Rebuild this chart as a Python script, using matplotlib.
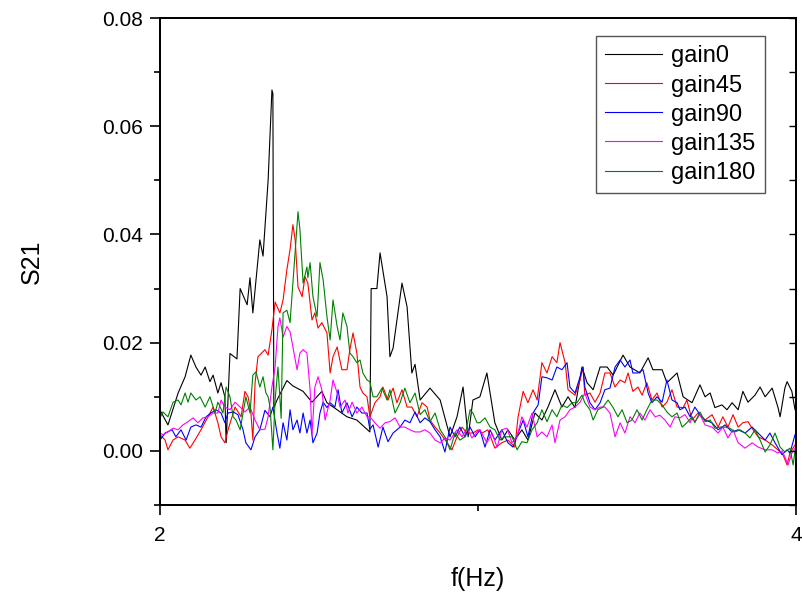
import matplotlib
matplotlib.use("Agg")
import matplotlib.pyplot as plt
from matplotlib.ticker import MultipleLocator, FixedLocator

plt.rcParams['font.family'] = ['Liberation Sans', 'DejaVu Sans']

# ---- data (f in Hz, S21) ----
labels = ["gain0", "gain45", "gain90", "gain135", "gain180"]
line_colors = ["#000000", "#ff0000", "#0000ff", "#ff00ff", "#008000"]

f_gain0 = [2.003, 2.025, 2.057, 2.079, 2.097, 2.113, 2.129, 2.142, 2.157, 2.167,
           2.182, 2.192, 2.204, 2.208, 2.220, 2.242, 2.252, 2.274, 2.283, 2.292,
           2.314, 2.324, 2.340, 2.352, 2.355, 2.358, 2.368, 2.399, 2.418, 2.450,
           2.478, 2.509, 2.525, 2.557, 2.588, 2.619, 2.660, 2.664, 2.682, 2.692,
           2.714, 2.723, 2.733, 2.761, 2.777, 2.792, 2.802, 2.818, 2.849, 2.881,
           2.912, 2.934, 2.953, 2.969, 2.984, 3.006, 3.028, 3.038, 3.053, 3.075,
           3.094, 3.116, 3.138, 3.157, 3.179, 3.201, 3.220, 3.242, 3.264, 3.283,
           3.305, 3.327, 3.343, 3.362, 3.384, 3.406, 3.425, 3.456, 3.478, 3.509,
           3.535, 3.550, 3.579, 3.594, 3.626, 3.645, 3.673, 3.698, 3.714, 3.730,
           3.745, 3.767, 3.783, 3.799, 3.818, 3.833, 3.849, 3.871, 3.887, 3.903,
           3.925, 3.943, 3.950, 3.965, 3.972, 3.987, 3.997]
s_gain0 = [0.0072, 0.0048, 0.0107, 0.0137, 0.0177, 0.0155, 0.0140, 0.0155, 0.0128, 0.0140,
           0.0107, 0.0126, 0.0100, 0.0015, 0.0180, 0.0170, 0.0300, 0.0270, 0.0320, 0.0255,
           0.0390, 0.0360, 0.0500, 0.0667, 0.0660, 0.0080, 0.0094, 0.0130, 0.0120, 0.0110,
           0.0090, 0.0110, 0.0089, 0.0076, 0.0063, 0.0057, 0.0035, 0.0300, 0.0300, 0.0366,
           0.0285, 0.0174, 0.0190, 0.0310, 0.0266, 0.0144, 0.0160, 0.0094, 0.0116, 0.0094,
           0.0026, 0.0063, 0.0118, 0.0026, 0.0094, 0.0100, 0.0144, 0.0107, 0.0052, 0.0020,
           0.0039, 0.0020, 0.0039, 0.0020, 0.0070, 0.0057, 0.0081, 0.0113, 0.0081, 0.0100,
           0.0080, 0.0155, 0.0126, 0.0113, 0.0155, 0.0155, 0.0140, 0.0177, 0.0155, 0.0144,
           0.0172, 0.0150, 0.0150, 0.0126, 0.0144, 0.0100, 0.0089, 0.0122, 0.0100, 0.0107,
           0.0080, 0.0085, 0.0076, 0.0089, 0.0076, 0.0110, 0.0090, 0.0103, 0.0118, 0.0100,
           0.0116, 0.0081, 0.0063, 0.0116, 0.0128, 0.0110, 0.0076]

f_gain45 = [2.000, 2.016, 2.025, 2.041, 2.057, 2.079, 2.094, 2.110, 2.129, 2.151,
            2.167, 2.182, 2.192, 2.204, 2.214, 2.236, 2.255, 2.267, 2.277, 2.286,
            2.292, 2.299, 2.308, 2.330, 2.340, 2.352, 2.362, 2.377, 2.387, 2.399,
            2.409, 2.418, 2.425, 2.434, 2.447, 2.456, 2.465, 2.478, 2.487, 2.497,
            2.509, 2.525, 2.535, 2.544, 2.557, 2.572, 2.588, 2.597, 2.607, 2.619,
            2.629, 2.638, 2.651, 2.660, 2.676, 2.692, 2.701, 2.717, 2.733, 2.745,
            2.761, 2.777, 2.792, 2.808, 2.824, 2.840, 2.849, 2.865, 2.881, 2.903,
            2.918, 2.934, 2.950, 2.965, 2.984, 3.000, 3.013, 3.031, 3.053, 3.075,
            3.094, 3.116, 3.126, 3.142, 3.157, 3.173, 3.186, 3.201, 3.217, 3.233,
            3.248, 3.258, 3.274, 3.283, 3.305, 3.321, 3.330, 3.336, 3.352, 3.368,
            3.384, 3.399, 3.415, 3.431, 3.447, 3.462, 3.472, 3.487, 3.503, 3.516,
            3.531, 3.547, 3.563, 3.579, 3.594, 3.610, 3.626, 3.645, 3.657, 3.673,
            3.692, 3.714, 3.736, 3.755, 3.770, 3.786, 3.802, 3.818, 3.833, 3.849,
            3.865, 3.881, 3.903, 3.925, 3.943, 3.959, 3.972, 3.981, 3.997]
s_gain45 = [0.0030, 0.0020, 0.0002, 0.0020, 0.0026, 0.0020, 0.0005, 0.0020, 0.0039, 0.0063,
            0.0081, 0.0052, 0.0026, 0.0015, 0.0039, 0.0081, 0.0063, 0.0110, 0.0100, 0.0070,
            0.0020, 0.0126, 0.0174, 0.0187, 0.0177, 0.0224, 0.0275, 0.0255, 0.0279, 0.0335,
            0.0372, 0.0418, 0.0390, 0.0303, 0.0285, 0.0322, 0.0310, 0.0242, 0.0255, 0.0227,
            0.0237, 0.0218, 0.0144, 0.0174, 0.0192, 0.0150, 0.0150, 0.0187, 0.0218, 0.0181,
            0.0118, 0.0107, 0.0100, 0.0063, 0.0089, 0.0100, 0.0118, 0.0094, 0.0116, 0.0089,
            0.0113, 0.0081, 0.0081, 0.0063, 0.0089, 0.0081, 0.0057, 0.0044, 0.0033, 0.0015,
            0.0002, 0.0026, 0.0044, 0.0033, 0.0033, 0.0039, 0.0033, 0.0039, 0.0005, 0.0015,
            0.0020, 0.0007, 0.0063, 0.0110, 0.0089, 0.0113, 0.0094, 0.0163, 0.0144, 0.0174,
            0.0163, 0.0200, 0.0163, 0.0113, 0.0103, 0.0131, 0.0155, 0.0103, 0.0107, 0.0090,
            0.0107, 0.0144, 0.0144, 0.0118, 0.0131, 0.0126, 0.0144, 0.0110, 0.0118, 0.0103,
            0.0126, 0.0094, 0.0107, 0.0081, 0.0090, 0.0113, 0.0081, 0.0080, 0.0094, 0.0057,
            0.0070, 0.0057, 0.0067, 0.0044, 0.0063, 0.0044, 0.0067, 0.0044, 0.0052, 0.0054,
            0.0039, 0.0026, 0.0020, 0.0011, 0.0002, -0.0007, -0.0026, -0.0004, 0.0011]

f_gain90 = [2.000, 2.016, 2.038, 2.050, 2.066, 2.082, 2.097, 2.113, 2.129, 2.145,
            2.160, 2.176, 2.192, 2.204, 2.214, 2.230, 2.245, 2.261, 2.270, 2.286,
            2.299, 2.314, 2.330, 2.346, 2.355, 2.368, 2.377, 2.387, 2.399, 2.409,
            2.418, 2.431, 2.440, 2.450, 2.462, 2.472, 2.481, 2.494, 2.503, 2.513,
            2.525, 2.535, 2.550, 2.560, 2.572, 2.588, 2.604, 2.619, 2.635, 2.651,
            2.660, 2.670, 2.686, 2.701, 2.717, 2.733, 2.755, 2.770, 2.786, 2.802,
            2.818, 2.833, 2.849, 2.865, 2.881, 2.896, 2.912, 2.928, 2.943, 2.959,
            2.975, 2.991, 3.006, 3.022, 3.038, 3.053, 3.075, 3.094, 3.110, 3.126,
            3.142, 3.157, 3.173, 3.189, 3.201, 3.217, 3.233, 3.248, 3.264, 3.280,
            3.289, 3.305, 3.321, 3.330, 3.336, 3.352, 3.368, 3.384, 3.399, 3.415,
            3.431, 3.447, 3.462, 3.478, 3.487, 3.503, 3.519, 3.535, 3.547, 3.563,
            3.579, 3.594, 3.610, 3.626, 3.635, 3.651, 3.667, 3.682, 3.698, 3.714,
            3.736, 3.755, 3.777, 3.799, 3.818, 3.840, 3.862, 3.881, 3.903, 3.918,
            3.934, 3.956, 3.972, 3.981, 3.997]
s_gain90 = [0.0020, 0.0033, 0.0039, 0.0026, 0.0039, 0.0020, 0.0044, 0.0048, 0.0044, 0.0063,
            0.0070, 0.0076, 0.0070, 0.0052, 0.0070, 0.0072, 0.0067, 0.0039, 0.0015, 0.0002,
            0.0026, 0.0039, 0.0075, 0.0063, 0.0081, 0.0033, 0.0005, 0.0052, 0.0020, 0.0076,
            0.0039, 0.0057, 0.0033, 0.0070, 0.0033, 0.0057, 0.0015, 0.0033, 0.0070, 0.0090,
            0.0080, 0.0089, 0.0081, 0.0113, 0.0070, 0.0089, 0.0063, 0.0081, 0.0070, 0.0070,
            0.0040, 0.0048, 0.0007, 0.0044, 0.0017, 0.0033, 0.0044, 0.0057, 0.0052, 0.0072,
            0.0052, 0.0061, 0.0054, 0.0039, 0.0026, -0.0002, 0.0044, 0.0026, 0.0044, 0.0026,
            0.0044, 0.0026, 0.0039, 0.0007, 0.0039, 0.0020, 0.0039, 0.0015, 0.0007, 0.0033,
            0.0057, 0.0026, 0.0070, 0.0085, 0.0137, 0.0135, 0.0131, 0.0155, 0.0150, 0.0163,
            0.0118, 0.0107, 0.0137, 0.0155, 0.0118, 0.0089, 0.0076, 0.0089, 0.0113, 0.0116,
            0.0155, 0.0168, 0.0155, 0.0168, 0.0144, 0.0144, 0.0150, 0.0107, 0.0089, 0.0100,
            0.0090, 0.0131, 0.0094, 0.0089, 0.0076, 0.0081, 0.0063, 0.0081, 0.0067, 0.0057,
            0.0052, 0.0039, 0.0048, 0.0035, 0.0039, 0.0033, 0.0044, 0.0033, 0.0020, 0.0033,
            0.0015, -0.0007, 0.0002, -0.0004, 0.0030]

f_gain135 = [2.000, 2.009, 2.025, 2.041, 2.057, 2.072, 2.088, 2.104, 2.119, 2.135,
             2.151, 2.167, 2.182, 2.192, 2.204, 2.220, 2.236, 2.252, 2.267, 2.283,
             2.299, 2.314, 2.330, 2.340, 2.352, 2.362, 2.371, 2.377, 2.387, 2.399,
             2.409, 2.418, 2.431, 2.440, 2.450, 2.462, 2.472, 2.478, 2.487, 2.497,
             2.509, 2.519, 2.535, 2.544, 2.557, 2.566, 2.582, 2.591, 2.604, 2.619,
             2.635, 2.651, 2.660, 2.676, 2.692, 2.708, 2.723, 2.739, 2.755, 2.770,
             2.786, 2.802, 2.818, 2.833, 2.849, 2.865, 2.881, 2.896, 2.912, 2.934,
             2.950, 2.965, 2.981, 2.997, 3.006, 3.028, 3.044, 3.060, 3.075, 3.091,
             3.107, 3.123, 3.138, 3.154, 3.170, 3.186, 3.201, 3.217, 3.233, 3.242,
             3.258, 3.274, 3.289, 3.305, 3.321, 3.336, 3.352, 3.368, 3.384, 3.399,
             3.415, 3.431, 3.447, 3.462, 3.478, 3.494, 3.509, 3.525, 3.541, 3.557,
             3.572, 3.588, 3.604, 3.619, 3.635, 3.651, 3.667, 3.673, 3.682, 3.698,
             3.714, 3.736, 3.755, 3.770, 3.786, 3.802, 3.818, 3.840, 3.862, 3.881,
             3.903, 3.925, 3.943, 3.956, 3.965, 3.975, 3.987, 3.997]
s_gain135 = [0.0033, 0.0030, 0.0035, 0.0042, 0.0039, 0.0048, 0.0054, 0.0061, 0.0052, 0.0061,
             0.0063, 0.0070, 0.0070, 0.0094, 0.0081, 0.0076, 0.0090, 0.0081, 0.0072, 0.0081,
             0.0057, 0.0039, 0.0040, 0.0063, 0.0118, 0.0155, 0.0230, 0.0246, 0.0210, 0.0230,
             0.0220, 0.0192, 0.0150, 0.0181, 0.0187, 0.0181, 0.0113, 0.0030, 0.0118, 0.0137,
             0.0113, 0.0057, 0.0094, 0.0131, 0.0107, 0.0081, 0.0094, 0.0070, 0.0090, 0.0070,
             0.0081, 0.0063, 0.0063, 0.0052, 0.0042, 0.0052, 0.0054, 0.0061, 0.0044, 0.0044,
             0.0039, 0.0035, 0.0035, 0.0039, 0.0033, 0.0020, 0.0015, 0.0024, 0.0020, 0.0039,
             0.0026, 0.0042, 0.0024, 0.0035, 0.0039, 0.0015, 0.0033, 0.0007, 0.0039, 0.0042,
             0.0015, 0.0026, 0.0063, 0.0044, 0.0070, 0.0026, 0.0035, 0.0026, 0.0048, 0.0015,
             0.0057, 0.0063, 0.0076, 0.0081, 0.0090, 0.0107, 0.0081, 0.0076, 0.0081, 0.0081,
             0.0070, 0.0026, 0.0052, 0.0033, 0.0063, 0.0052, 0.0070, 0.0057, 0.0076, 0.0063,
             0.0066, 0.0057, 0.0044, 0.0063, 0.0061, 0.0067, 0.0052, 0.0063, 0.0054, 0.0067,
             0.0048, 0.0044, 0.0033, 0.0044, 0.0024, 0.0039, 0.0015, 0.0005, 0.0015, 0.0007,
             0.0002, 0.0002, -0.0004, 0.0000, -0.0011, -0.0026, -0.0004, 0.0005]

f_gain180 = [2.000, 2.009, 2.025, 2.041, 2.057, 2.066, 2.079, 2.088, 2.097, 2.113,
             2.126, 2.142, 2.157, 2.173, 2.182, 2.198, 2.208, 2.220, 2.230, 2.239,
             2.252, 2.261, 2.270, 2.283, 2.292, 2.302, 2.314, 2.324, 2.333, 2.340,
             2.346, 2.355, 2.362, 2.371, 2.381, 2.387, 2.399, 2.409, 2.418, 2.431,
             2.434, 2.440, 2.450, 2.462, 2.465, 2.472, 2.481, 2.494, 2.503, 2.513,
             2.525, 2.535, 2.544, 2.557, 2.566, 2.575, 2.588, 2.597, 2.607, 2.619,
             2.629, 2.638, 2.651, 2.660, 2.670, 2.682, 2.698, 2.714, 2.723, 2.739,
             2.755, 2.770, 2.786, 2.802, 2.818, 2.833, 2.849, 2.865, 2.881, 2.896,
             2.912, 2.928, 2.943, 2.959, 2.975, 2.984, 2.997, 3.006, 3.022, 3.038,
             3.053, 3.069, 3.085, 3.107, 3.123, 3.138, 3.154, 3.170, 3.186, 3.201,
             3.217, 3.233, 3.248, 3.264, 3.280, 3.296, 3.311, 3.327, 3.336, 3.352,
             3.362, 3.377, 3.393, 3.409, 3.425, 3.440, 3.453, 3.469, 3.484, 3.500,
             3.516, 3.531, 3.547, 3.563, 3.579, 3.594, 3.610, 3.626, 3.642, 3.657,
             3.673, 3.682, 3.698, 3.714, 3.730, 3.745, 3.761, 3.777, 3.792, 3.808,
             3.824, 3.840, 3.855, 3.871, 3.887, 3.903, 3.918, 3.934, 3.950, 3.965,
             3.981, 3.991, 3.997]
s_gain180 = [0.0061, 0.0072, 0.0063, 0.0090, 0.0094, 0.0085, 0.0107, 0.0090, 0.0107, 0.0094,
             0.0100, 0.0081, 0.0100, 0.0070, 0.0090, 0.0070, 0.0118, 0.0100, 0.0063, 0.0057,
             0.0039, 0.0070, 0.0100, 0.0070, 0.0140, 0.0146, 0.0118, 0.0137, 0.0107, 0.0100,
             0.0081, 0.0002, 0.0094, 0.0155, 0.0060, 0.0255, 0.0260, 0.0237, 0.0310, 0.0414,
             0.0442, 0.0409, 0.0310, 0.0340, 0.0320, 0.0348, 0.0285, 0.0248, 0.0348, 0.0316,
             0.0248, 0.0205, 0.0279, 0.0230, 0.0205, 0.0255, 0.0230, 0.0181, 0.0174, 0.0163,
             0.0168, 0.0144, 0.0131, 0.0128, 0.0100, 0.0100, 0.0116, 0.0094, 0.0113, 0.0070,
             0.0089, 0.0116, 0.0089, 0.0107, 0.0067, 0.0076, 0.0054, 0.0070, 0.0039, 0.0026,
             0.0002, 0.0033, 0.0020, 0.0026, 0.0076, 0.0070, 0.0052, 0.0052, 0.0061, 0.0044,
             0.0039, 0.0020, 0.0026, 0.0026, 0.0002, 0.0017, 0.0015, 0.0039, 0.0052, 0.0076,
             0.0054, 0.0076, 0.0063, 0.0085, 0.0080, 0.0089, 0.0089, 0.0103, 0.0089, 0.0076,
             0.0057, 0.0076, 0.0081, 0.0094, 0.0080, 0.0063, 0.0076, 0.0052, 0.0057, 0.0076,
             0.0057, 0.0076, 0.0094, 0.0094, 0.0085, 0.0072, 0.0063, 0.0070, 0.0044, 0.0052,
             0.0063, 0.0052, 0.0072, 0.0054, 0.0057, 0.0042, 0.0044, 0.0044, 0.0042, 0.0035,
             0.0039, 0.0033, 0.0024, 0.0039, 0.0020, -0.0002, 0.0011, 0.0033, 0.0007, -0.0002,
             0.0005, -0.0026, 0.0000]

series_f = [f_gain0, f_gain45, f_gain90, f_gain135, f_gain180]
series_s = [s_gain0, s_gain45, s_gain90, s_gain135, s_gain180]

fig = plt.figure(figsize=(8.02, 5.92), dpi=100)
ax = fig.add_axes([160 / 802, 1 - 505 / 592, 636 / 802, 487 / 592])

for f, s, lab, col in zip(series_f, series_s, labels, line_colors):
    ax.plot(f, s, color=col, lw=0.8, label=lab)

ax.set_xlim(2, 4)
ax.set_ylim(-0.01, 0.08)
ax.set_xticks([2, 4])
ax.set_xticklabels(["2", "4"])
ax.xaxis.set_minor_locator(FixedLocator([3]))
ax.yaxis.set_major_locator(MultipleLocator(0.02))
ax.yaxis.set_minor_locator(MultipleLocator(0.01))
ax.yaxis.set_major_formatter(matplotlib.ticker.FormatStrFormatter('%.2f'))

ax.tick_params(axis='both', which='major', direction='out', length=7, width=1.2,
               labelsize=15, pad=5)
ax.tick_params(axis='both', which='minor', direction='out', length=4, width=1.2)
ax.tick_params(axis='x', which='major', pad=8)

# inward ticks mirrored on the right spine
axr = ax.twinx()
axr.set_ylim(ax.get_ylim())
axr.yaxis.set_major_locator(MultipleLocator(0.01))
axr.tick_params(axis='y', which='major', direction='in', length=5, width=1.0,
                labelright=False)

for a in (ax, axr):
    for sp in a.spines.values():
        sp.set_linewidth(1.3)

ax.set_xlabel("f(Hz)", fontsize=18, labelpad=16)
ax.set_ylabel("S21", fontsize=18, labelpad=42)

leg = ax.legend(loc='upper right', bbox_to_anchor=(0.951, 0.963), fontsize=17,
                frameon=True, fancybox=False, framealpha=1, edgecolor='#555555',
                handlelength=2.4, handletextpad=0.4, labelspacing=0.3,
                borderpad=0.4, borderaxespad=0)
leg.get_frame().set_linewidth(1.0)

fig.savefig("out.png", dpi=100)
